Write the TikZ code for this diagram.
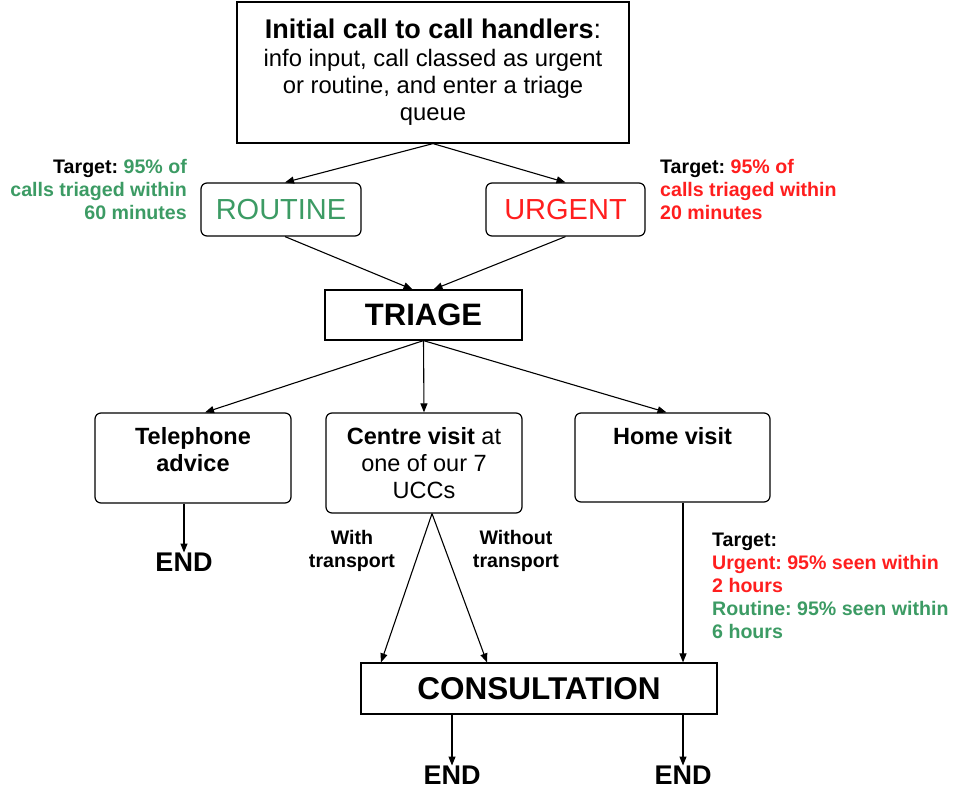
\documentclass[tikz,border=0pt]{standalone}
\usepackage{fontspec}
\setmainfont{Liberation Sans}
\usepackage{tikz}
\usetikzlibrary{arrows.meta}
\definecolor{routinegreen}{RGB}{60,155,100}
\definecolor{urgentred}{RGB}{255,30,30}
\frenchspacing

\begin{document}
\begin{tikzpicture}[x=1pt,y=-1pt,
->,>={Triangle[length=9pt,width=7pt]}]
     \tikzstyle{box}=[draw,line width=1.2pt,inner sep=0pt,align=center]
     \tikzstyle{rbox}=[box,rounded corners=6pt]
     \tikzstyle{edge} = [draw,line width=1.1pt,black]
     \tikzstyle{boxtext}=[inner sep=0pt,align=center,font=\fontsize{23.5}{27}\selectfont]
     \tikzstyle{target}=[inner sep=0pt,font=\bfseries\fontsize{19.6}{23}\selectfont]
     \tikzstyle{endtext}=[inner sep=0pt,font=\bfseries\fontsize{27}{30}\selectfont]
     \useasboundingbox (0,0) rectangle (955,789);

     \node[box,minimum width=392pt,minimum height=141pt,
       font=\fontsize{23.8}{27.3}\selectfont] (call) at (433,72.5)
       {{\fontsize{27}{27.3}\selectfont\textbf{Initial call to call handlers}:}\\
        info input, call classed as urgent\\
        or routine, and enter a triage\\
        queue};
     \node[rbox,minimum width=160pt,minimum height=53pt,text=routinegreen,
       font=\fontsize{29}{30}\selectfont] (routine) at (281,209.5) {ROUTINE};
     \node[rbox,minimum width=159pt,minimum height=53pt,text=urgentred,
       font=\fontsize{29}{30}\selectfont] (urgent) at (565.5,209.5) {URGENT};
     \node[target,anchor=east,align=right] (rtarget) at (187,189)
       {Target: \textcolor{routinegreen}{95\% of}\\
        \textcolor{routinegreen}{calls triaged within}\\
        \textcolor{routinegreen}{60 minutes}};
     \node[target,anchor=west,align=left] (utarget) at (660,189)
       {Target: \textcolor{urgentred}{95\% of}\\
        \textcolor{urgentred}{calls triaged within}\\
        \textcolor{urgentred}{20 minutes}};

     \node[box,minimum width=197pt,minimum height=50pt,
       font=\bfseries\fontsize{31}{32}\selectfont] (triage) at (423.5,315) {TRIAGE};

     \node[rbox,minimum width=196pt,minimum height=90pt] (phone) at (193,458) {};
     \node[rbox,minimum width=196pt,minimum height=100pt] (centre) at (424,463) {};
     \node[rbox,minimum width=195pt,minimum height=89pt] (home) at (672.5,457.5) {};
     \node[boxtext,anchor=north] (phonetxt) at (193,427)
       {\textbf{Telephone}\\\textbf{advice}};
     \node[boxtext,anchor=north] (centretxt) at (424,427)
       {\textbf{Centre visit} at\\one of our 7\\UCCs};
     \node[boxtext,anchor=north] (hometxt) at (672.5,427) {\textbf{Home visit}};

     \node[box,minimum width=356pt,minimum height=51pt,
       font=\bfseries\fontsize{31.5}{32}\selectfont] (consult) at (539,688.5) {CONSULTATION};

     \node[target,align=center] (with) at (352,551) {With\\transport};
     \node[target,align=center] (without) at (516,551) {Without\\transport};
     \node[target,anchor=west,align=left] (htarget) at (712,586)
       {Target:\\
        \textcolor{urgentred}{Urgent: 95\% seen within}\\
        \textcolor{urgentred}{2 hours}\\
        \textcolor{routinegreen}{Routine: 95\% seen within}\\
        \textcolor{routinegreen}{6 hours}};

     \node[endtext] (end1) at (184,562) {END};
     \node[endtext] (end2) at (452,775) {END};
     \node[endtext] (end3) at (683,775) {END};

     \draw[edge] (call.south) -- ([xshift=4]routine.north);
     \draw[edge] (call.south) -- (urgent.north);
     \draw[edge] ([xshift=4]routine.south) -- ([xshift=-11]triage.north);
     \draw[edge] (urgent.south) -- ([xshift=10]triage.north);
     \draw[edge] (triage.south) -- ([xshift=12]phone.north);
     \draw[edge] (triage.south) -- (centre.north);
     \draw[edge] (triage.south) -- ([xshift=-6]home.north);
     \draw[edge] ([xshift=-9]phone.south) -- (end1);
     \draw[edge] ([xshift=8]centre.south) -- ([xshift=-158]consult.north);
     \draw[edge] ([xshift=8]centre.south) -- ([xshift=-52]consult.north);
     \draw[edge] ([xshift=10.5]home.south) -- ([xshift=144]consult.north);
     \draw[edge] ([xshift=-87]consult.south) -- (end2);
     \draw[edge] ([xshift=144]consult.south) -- (end3);
 \end{tikzpicture}
\end{document}
